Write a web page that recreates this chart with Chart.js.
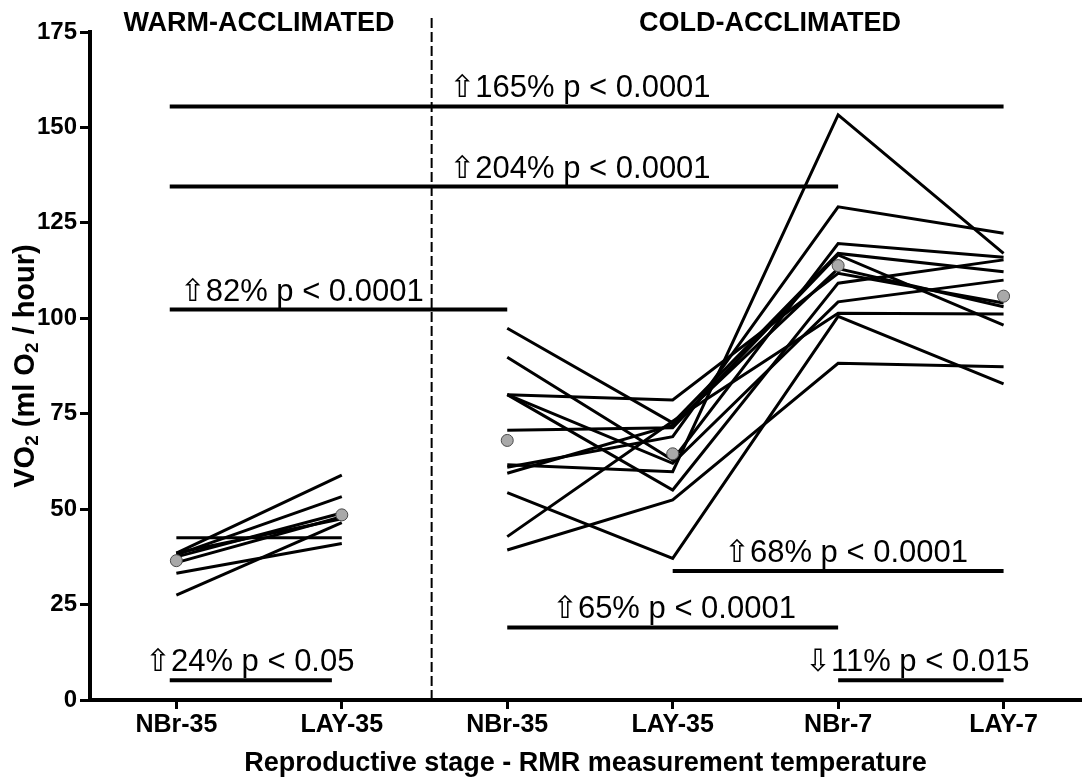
<!DOCTYPE html>
<html lang="en">
<head>
<meta charset="UTF-8">
<title>VO2 by reproductive stage and acclimation</title>
<style>
  body { margin: 0; background: #ffffff; }
  #wrap { width: 1088px; height: 777px; }
</style>
<script src="https://cdn.jsdelivr.net/npm/chart.js"></script>
</head>
<body>
<div id="wrap"><canvas id="chart"></canvas></div>
<script>
  // x positions: 1-2 warm group, 3-6 cold group
  const stageLabels = ['NBr-35', 'LAY-35', 'NBr-35', 'LAY-35', 'NBr-7', 'LAY-7'];

  // individual birds, warm-acclimated (NBr-35, LAY-35)
  const warmBirds = [
    [38.5, 58.9],
    [38.0, 53.3],
    [37.5, 49.0],
    [36.0, 48.0],
    [42.5, 42.5],
    [33.2, 41.0],
    [27.5, 46.5],
    [38.5, 47.5]
  ];

  // individual birds, cold-acclimated (NBr-35, LAY-35, NBr-7, LAY-7)
  const coldBirds = [
    [97.4, 72.6, 117.0, 112.2],
    [89.8, 62.9, 119.6, 116.0],
    [80.0, 78.6, 111.8, 104.0],
    [80.0, 55.0, 109.2, 115.3],
    [80.0, 62.0, 104.3, 110.0],
    [70.7, 71.3, 116.6, 98.2],
    [61.6, 59.8, 153.3, 117.0],
    [61.0, 69.0, 129.2, 122.3],
    [59.4, 72.0, 113.0, 103.0],
    [54.3, 37.1, 100.5, 82.8],
    [42.8, 73.0, 101.3, 101.1],
    [39.3, 52.4, 88.2, 87.3]
  ];

  const warmMean = [36.5, 48.5];
  const coldMean = [68.0, 64.5, 113.8, 105.8];

  // significance bars: level, from / to stage position, label
  const sigLevel = [155.5, 134.5, 102.3, 33.8, 19.0, 5.2, 5.2];
  const sigFrom  = [0.96, 0.96, 0.96, 4.0, 3.0, 5.0, 0.96];
  const sigTo    = [6.0, 5.0, 3.0, 6.0, 5.0, 6.0, 1.94];
  const sigText  = ['\u21E7165% p < 0.0001', '\u21E7204% p < 0.0001', '\u21E782% p < 0.0001',
                    '\u21E768% p < 0.0001', '\u21E765% p < 0.0001', '\u21E911% p < 0.015', '\u21E724% p < 0.05'];

  const yTicks = [0, 25, 50, 75, 100, 125, 150, 175];

  // where each bar label starts (x units) and the divider between groups
  const layout = {
    labelX: [2.65, 2.65, 1.02, 4.31, 3.27, 4.80, 0.81],
    divider: 2.543
  };

  const FONT = "'Liberation Sans', Arial, 'DejaVu Sans', sans-serif";

  const datasets = [];

  datasets.push({
    data: warmMean.map((v, i) => ({ x: i + 1, y: v })).concat(coldMean.map((v, i) => ({ x: i + 3, y: v }))),
    showLine: false,
    pointRadius: 6,
    pointBackgroundColor: '#a9a9a9',
    pointBorderColor: '#4a4a4a',
    pointBorderWidth: 1,
    order: 0
  });

  warmBirds.forEach(b => datasets.push({
    data: b.map((v, i) => ({ x: i + 1, y: v })),
    borderColor: '#000', borderWidth: 3, pointRadius: 0, order: 1
  }));

  coldBirds.forEach(b => datasets.push({
    data: b.map((v, i) => ({ x: i + 3, y: v })),
    borderColor: '#000', borderWidth: 3, pointRadius: 0, order: 1
  }));

  sigLevel.forEach((lvl, i) => datasets.push({
    data: [{ x: sigFrom[i], y: lvl }, { x: sigTo[i], y: lvl }],
    borderColor: '#000', borderWidth: 4, pointRadius: 0, order: 1, borderCapStyle: 'butt'
  }));

  const annotate = {
    id: 'annotate',
    afterDraw(chart) {
      const ctx = chart.ctx;
      const xs = chart.scales.x, ys = chart.scales.y;
      const area = chart.chartArea;
      ctx.save();

      // dashed divider between warm and cold groups
      const dx = xs.getPixelForValue(layout.divider);
      ctx.strokeStyle = '#000';
      ctx.lineWidth = 2;
      ctx.setLineDash([10, 4]);
      ctx.beginPath();
      ctx.moveTo(dx, 18);
      ctx.lineTo(dx, area.bottom);
      ctx.stroke();
      ctx.setLineDash([]);

      // bar labels
      ctx.fillStyle = '#000';
      ctx.font = '31px ' + FONT;
      ctx.textBaseline = 'alphabetic';
      ctx.textAlign = 'left';
      sigText.forEach((t, i) => {
        ctx.fillText(t, xs.getPixelForValue(layout.labelX[i]), ys.getPixelForValue(sigLevel[i]) - 9);
      });

      // group headings
      ctx.font = 'bold 27px ' + FONT;
      ctx.textAlign = 'center';
      ctx.textBaseline = 'middle';
      ctx.fillText('WARM-ACCLIMATED', 259, 24);
      ctx.fillText('COLD-ACCLIMATED', 770, 24);

      // x axis title
      ctx.font = 'bold 27px ' + FONT;
      ctx.fillText('Reproductive stage - RMR measurement temperature', (area.left + area.right) / 2, 764);

      // y axis title with subscripts
      const parts = [['VO', false], ['2', true], [' (ml O', false], ['2', true], [' / hour)', false]];
      const big = 'bold 29px ' + FONT, small = 'bold 19px ' + FONT;
      let total = 0;
      parts.forEach(p => { ctx.font = p[1] ? small : big; total += ctx.measureText(p[0]).width; });
      ctx.translate(26, (area.top + area.bottom) / 2);
      ctx.rotate(-Math.PI / 2);
      ctx.textAlign = 'left';
      ctx.textBaseline = 'middle';
      let pos = -total / 2;
      parts.forEach(p => {
        ctx.font = p[1] ? small : big;
        ctx.fillText(p[0], pos, p[1] ? 7 : 0);
        pos += ctx.measureText(p[0]).width;
      });
      ctx.restore();
    }
  };

  new Chart(document.getElementById('chart'), {
    type: 'line',
    data: { datasets },
    options: {
      responsive: true,
      maintainAspectRatio: false,
      animation: false,
      layout: { padding: { top: 32, right: 0, left: 0, bottom: 0 } },
      plugins: { legend: { display: false }, tooltip: { enabled: false } },
      scales: {
        x: {
          type: 'linear',
          min: 0.478,
          max: 6.468,
          afterBuildTicks: s => { s.ticks = stageLabels.map((_, i) => ({ value: i + 1 })); },
          afterFit: s => { s.height = 77; },
          ticks: {
            callback: (v, i) => stageLabels[i],
            color: '#000',
            font: { family: FONT, weight: 'bold', size: 25 },
            padding: 1,
            autoSkip: false,
            maxRotation: 0
          },
          grid: { drawOnChartArea: false, drawTicks: true, tickLength: 9, tickWidth: 3, tickColor: '#000' },
          border: { display: true, color: '#000', width: 4 }
        },
        y: {
          min: 0,
          max: 175,
          afterBuildTicks: s => { s.ticks = yTicks.map(v => ({ value: v })); },
          afterFit: s => { s.width = 90; },
          ticks: {
            color: '#000',
            font: { family: FONT, weight: 'bold', size: 24 },
            padding: 3
          },
          grid: { drawOnChartArea: false, drawTicks: true, tickLength: 10, tickWidth: 3, tickColor: '#000' },
          border: { display: true, color: '#000', width: 4 }
        }
      }
    },
    plugins: [annotate]
  });
</script>
</body>
</html>
